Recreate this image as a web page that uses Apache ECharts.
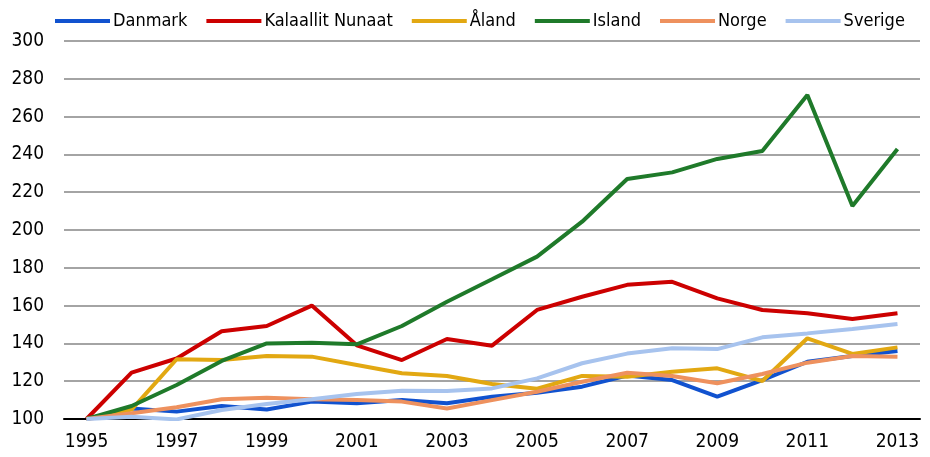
<!DOCTYPE html>
<html>
<head>
<meta charset="utf-8">
<script src="https://cdn.jsdelivr.net/npm/echarts@6/dist/echarts.min.js"></script>
<style>
html,body{margin:0;padding:0;background:#fff;}
#chart{width:930px;height:457px;}
</style>
</head>
<body>
<div id="chart"></div>
<script>
var years = ['1995','1996','1997','1998','1999','2000','2001','2002','2003','2004','2005','2006','2007','2008','2009','2010','2011','2012','2013'];
var danmark   = [100,105.6,103.9,106.9,105,109.2,108.3,110,108.3,111.8,113.9,117.1,123,120.6,111.8,120.6,130.3,133.3,136];
var kalaallit = [100,124.5,132,146.4,149.2,160,139,131.2,142.3,138.8,157.7,164.7,171,172.6,163.8,157.7,155.9,152.9,155.9];
var aland     = [100,105,131.6,131.2,133.3,133,128.6,124.2,122.8,118.5,116,122.8,122.4,125,126.8,120.1,142.7,134.4,137.9];
var island    = [100,106.9,118,130.7,140,140.4,139.5,149.2,162,173.9,185.9,204.4,227,230.5,237.6,241.8,271.4,212.7,242.9];
var norge     = [100,103,106.2,110.4,111.3,110.4,110,109.2,105.6,110,114.4,119.7,124.5,122.8,118.9,123.8,129.8,133.3,133];
var sverige   = [100,101.2,99.8,104.8,107.9,110.4,113.2,115,114.8,116.2,121.5,129.5,134.6,137.4,137,143.2,145.3,147.6,150.3];
var seriesNames = ['Danmark','Kalaallit Nunaat','Åland','Island','Norge','Sverige'];
var seriesData = [danmark, kalaallit, aland, island, norge, sverige];
var colors = ['#1152CF','#CC0000','#E2A812','#1F7A2A','#EE915E','#A7C3EE'];
var font = '"DejaVu Sans Condensed","Liberation Sans Narrow",sans-serif';

var chart = echarts.init(document.getElementById('chart'), null, {renderer:'canvas'});
chart.setOption({
  animation: false,
  color: colors,
  legend: {
    top: 7,
    left: 50,
    width: 880,
    itemWidth: 55,
    itemHeight: 4,
    itemGap: 19,
    icon: 'rect',
    textStyle: {fontFamily: font, fontSize: 18, color: '#000', padding: [0,0,0,-2]},
    data: seriesNames
  },
  grid: {left: 64, right: 10, top: 41, bottom: 38, containLabel: false},
  xAxis: {
    type: 'category',
    data: years,
    boundaryGap: true,
    axisLine: {lineStyle: {color: '#000', width: 2}},
    axisTick: {show: false},
    axisLabel: {interval: 1, margin: 14, fontFamily: font, fontSize: 19, color: '#000'},
    splitLine: {show: false}
  },
  yAxis: {
    type: 'value',
    min: 100, max: 300, interval: 20,
    axisLine: {show: false},
    axisTick: {show: false},
    axisLabel: {margin: 20, fontFamily: font, fontSize: 19, color: '#000'},
    splitLine: {lineStyle: {color: '#868686', width: 1.5}}
  },
  series: seriesNames.map(function(n, i){
    return {
      name: n,
      type: 'line',
      data: seriesData[i],
      symbol: 'none',
      lineStyle: {width: 4, color: colors[i]},
      itemStyle: {color: colors[i]}
    };
  })
});
</script>
</body>
</html>
